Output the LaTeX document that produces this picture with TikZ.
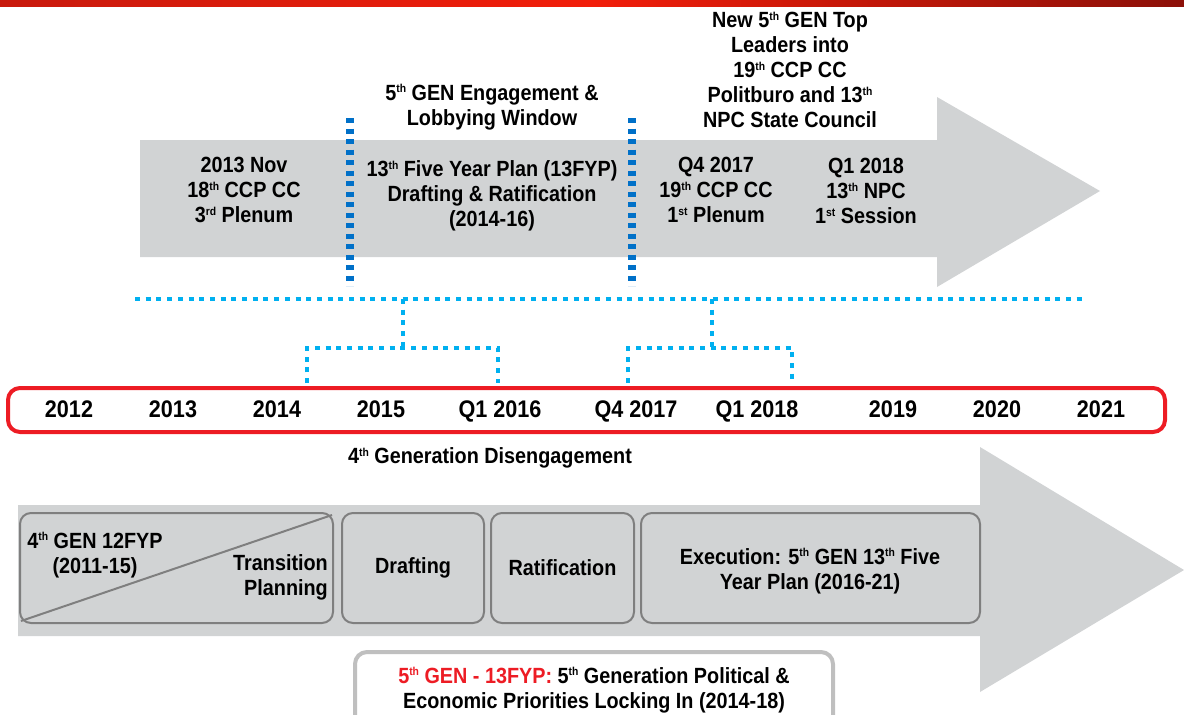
\documentclass[tikz,border=0pt]{standalone}
\usepackage{fontspec}
\setmainfont{Liberation Sans}[FakeStretch=0.9]
\definecolor{arrowgray}{HTML}{D1D3D4}
\definecolor{boxline}{HTML}{7F7F7F}
\definecolor{lightline}{HTML}{BFBFBF}
\definecolor{darkblue}{HTML}{0070C8}
\definecolor{lightblue}{HTML}{00B0F0}
\definecolor{boxred}{HTML}{ED1C24}
\definecolor{barleft}{HTML}{C81A0C}
\definecolor{barmid}{HTML}{F21E0A}
\definecolor{barright}{HTML}{8C1008}
\newcommand{\sps}[1]{\raisebox{0.34em}{\fontsize{11.5}{12}\selectfont #1}}
\tikzset{
  txt/.style={font=\fontsize{22}{25}\selectfont\bfseries, align=center, inner sep=0pt, text=black},
  window/.style={darkblue, line width=8pt, dash pattern=on 5pt off 5.5pt},
  dotline/.style={lightblue, line width=4.5pt, dash pattern=on 5pt off 5.7pt},
  phasebox/.style={draw=boxline, line width=2pt, fill=arrowgray, rounded corners=11pt, inner sep=0pt},
  yearlbl/.style={font=\fontsize{24}{26}\selectfont\bfseries, inner sep=0pt, anchor=base},
}
\begin{document}
\begin{tikzpicture}[x=1pt,y=-1pt]
\useasboundingbox (0,0) rectangle (1184,715);
\clip (0,0) rectangle (1184,715);
% top bar
\shade[left color=barleft, right color=barright, middle color=barmid] (0,0) rectangle (1184,6);
% top arrow
\fill[arrowgray] (140,140) -- (937,140) -- (937,97) -- (1100,191) -- (937,287) -- (937,257) -- (140,257) -- cycle;
% window lines
\coordinate (w1t) at (350,118); \coordinate (w1b) at (350,286);
\coordinate (w2t) at (632,118); \coordinate (w2b) at (632,286);
\draw[window] (w1t) -- (w1b);
\draw[window] (w2t) -- (w2b);
% top texts
\node[txt] (eng) at (492,107) {5\sps{th} GEN Engagement \&\\Lobbying Window};
\node[txt] (newgen) at (790,70) {New 5\sps{th} GEN Top\\Leaders into\\19\sps{th} CCP CC\\Politburo and 13\sps{th}\\NPC State Council};
\node[txt] (e1) at (244,190) {2013 Nov\\18\sps{th} CCP CC\\3\sps{rd} Plenum};
\node[txt] (e2) at (492,196) {13\sps{th} Five Year Plan (13FYP)\\Drafting \& Ratification\\(2014-16)};
\node[txt] (e3) at (716,190) {Q4 2017\\19\sps{th} CCP CC\\1\sps{st} Plenum};
\node[txt] (e4) at (866,191) {Q1 2018\\13\sps{th} NPC\\1\sps{st} Session};
% dotted lines and brackets
\coordinate (hl) at (135,299); \coordinate (hr) at (1083,299);
\draw[dotline] (hl) -- (hr);
\coordinate (b1top) at (403,299); \coordinate (b1mid) at (403,348);
\coordinate (b1l) at (307,348); \coordinate (b1r) at (498,348);
\coordinate (b1lb) at (307,383); \coordinate (b1rb) at (498,383);
\draw[dotline] (b1top) -- (b1mid);
\draw[dotline] (b1lb) -- (b1l) -- (b1r) -- (b1rb);
\coordinate (b2top) at (712,299); \coordinate (b2mid) at (712,348);
\coordinate (b2l) at (628,348); \coordinate (b2r) at (792,348);
\coordinate (b2lb) at (628,383); \coordinate (b2rb) at (792,383);
\draw[dotline] (b2top) -- (b2mid);
\draw[dotline] (b2lb) -- (b2l) -- (b2r) -- (b2rb);
% year box
\draw[boxred, line width=4pt, rounded corners=12pt] (8,388) rectangle (1165,432);
\node[yearlbl] (y12) at (69,417) {2012};
\node[yearlbl] (y13) at (173,417) {2013};
\node[yearlbl] (y14) at (277,417) {2014};
\node[yearlbl] (y15) at (381,417) {2015};
\node[yearlbl] (y16) at (500,417) {Q1 2016};
\node[yearlbl] (y17) at (636,417) {Q4 2017};
\node[yearlbl] (y18) at (757,417) {Q1 2018};
\node[yearlbl] (y19) at (893,417) {2019};
\node[yearlbl] (y20) at (997,417) {2020};
\node[yearlbl] (y21) at (1101,417) {2021};
\node[txt] (dis) at (490,458) {4\sps{th} Generation Disengagement};
% bottom arrow
\fill[arrowgray] (18,505) -- (980,505) -- (980,447) -- (1184,570) -- (980,692) -- (980,636) -- (18,636) -- cycle;
% phase boxes
\node[phasebox, minimum width=313pt, minimum height=110pt] (p1) at (176.5,568) {};
\draw[boxline, line width=2pt] ([shift={(2,-3)}]p1.south west) -- ([shift={(-2,3)}]p1.north east);
\node[txt, anchor=center] (p1a) at (95,555) {4\sps{th} GEN 12FYP\\(2011-15)};
\node[txt, align=right, anchor=east] (p1b) at (328,577) {Transition\\Planning};
\node[phasebox, minimum width=142pt, minimum height=110pt] (p2) at (413,568) {};
\node[txt] at (p2) {Drafting};
\node[phasebox, minimum width=143pt, minimum height=110pt] (p3) at (562.5,568) {};
\node[txt] at (p3) {Ratification};
\node[phasebox, minimum width=339pt, minimum height=110pt] (p4) at (810.5,568) {};
\node[txt] at (810,571) {Execution: 5\sps{th} GEN 13\sps{th} Five\\Year Plan (2016-21)};
% bottom box
\draw[lightline, fill=white, line width=4pt, rounded corners=12pt] (355,652) rectangle (833,740);
\node[txt] (lock) at (594,690) {\textcolor{boxred}{5\sps{th} GEN - 13FYP:} 5\sps{th} Generation Political \&\\Economic Priorities Locking In (2014-18)};
\end{tikzpicture}
\end{document}
